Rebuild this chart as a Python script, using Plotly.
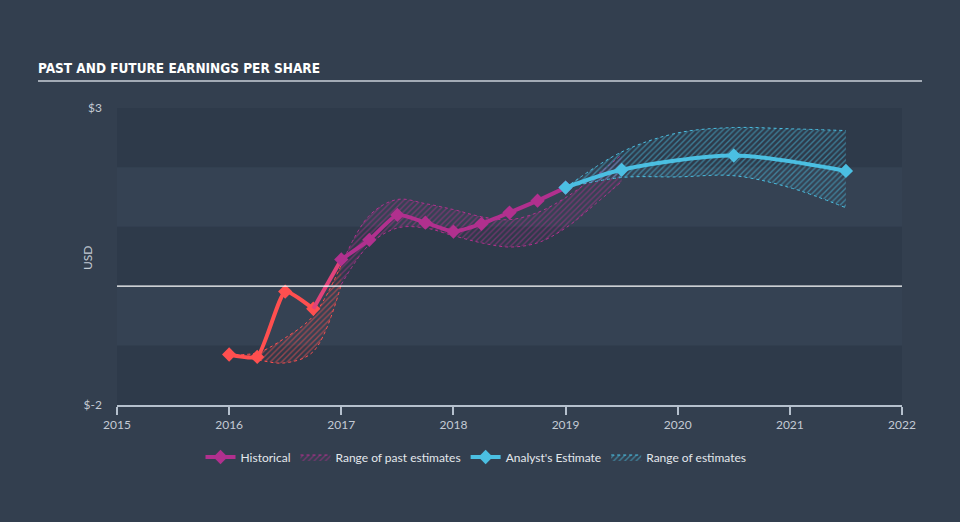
import plotly.graph_objects as go

# ---------------- data ----------------
hist_x = [2016.0, 2016.25, 2016.5, 2016.75, 2017.0, 2017.25, 2017.5, 2017.75,
          2018.0, 2018.25, 2018.5, 2018.75, 2019.0]
hist_y = [-1.15, -1.19, -0.09, -0.38, 0.45, 0.78, 1.20, 1.07,
          0.92, 1.05, 1.24, 1.44, 1.66]

past_x = [2016.0, 2016.25, 2016.5, 2016.75, 2017.0, 2017.25, 2017.5, 2017.75,
          2018.0, 2018.25, 2018.5, 2018.75, 2019.0, 2019.25, 2019.5]
past_hi = [-1.15, -1.12, -0.87, -0.50, 0.36, 1.19, 1.46, 1.39,
           1.29, 1.17, 1.12, 1.24, 1.49, 1.83, 2.21]
past_lo = [-1.15, -1.24, -1.29, -1.10, 0.03, 0.70, 0.98, 0.98,
           0.85, 0.73, 0.66, 0.73, 0.98, 1.36, 1.76]

est_x = [2019.0, 2019.5, 2020.5, 2021.5]
est_y = [1.66, 1.96, 2.20, 1.94]

rng_x = [2019.0, 2019.5, 2020.0, 2020.5, 2021.0, 2021.5]
rng_hi = [1.66, 2.26, 2.58, 2.67, 2.65, 2.62]
rng_lo = [1.66, 1.83, 1.84, 1.86, 1.66, 1.32]

x_ticks = [2015, 2016, 2017, 2018, 2019, 2020, 2021, 2022]
y_ticks = [3, -2]
y_tick_text = ["$3", "$-2"]

# ---------------- style ----------------
RED = "#ff4f4f"
MID = "#e0437a"
PURPLE = "#b1308e"
CYAN = "#4bbfe2"
BG = "#333f4f"
BAND_DARK = "#2e3a4a"
BAND_LIGHT = "#354253"
TXT = "#c3cad4"

fig = go.Figure()


def band(xs, lo, hi, color, name, show, rank):
    fig.add_trace(go.Scatter(
        x=xs, y=lo, mode="lines", line=dict(color=color, width=1, dash="dot", shape="spline"),
        showlegend=False, hoverinfo="skip"))
    fig.add_trace(go.Scatter(
        x=xs, y=hi, mode="lines", line=dict(color=color, width=1, dash="dot", shape="spline"),
        fill="tonexty", fillcolor="rgba(0,0,0,0)",
        fillpattern=dict(shape="/", fgcolor=color, bgcolor="rgba(0,0,0,0)", size=4, solidity=0.35),
        name=name, showlegend=show, legendrank=rank, hoverinfo="skip"))


# past estimate range (red part then purple part)
band(past_x[0:5], past_lo[0:5], past_hi[0:5], RED, "Range of past estimates", False, 2)
band(past_x[4:], past_lo[4:], past_hi[4:], PURPLE, "Range of past estimates", True, 2)
# future estimate range
band(rng_x, rng_lo, rng_hi, CYAN, "Range of estimates", True, 4)

# historical line (colour shifts from red to purple)
fig.add_trace(go.Scatter(
    x=hist_x[0:4], y=hist_y[0:4], mode="lines+markers",
    line=dict(color=RED, width=4, shape="spline", smoothing=0.5),
    marker=dict(symbol="diamond", size=11, color=RED),
    showlegend=False, hoverinfo="skip"))
fig.add_trace(go.Scatter(
    x=hist_x[3:5], y=hist_y[3:5], mode="lines",
    line=dict(color=MID, width=4),
    showlegend=False, hoverinfo="skip"))
fig.add_trace(go.Scatter(
    x=hist_x[4:], y=hist_y[4:], mode="lines+markers",
    line=dict(color=PURPLE, width=4, shape="spline", smoothing=0.5),
    marker=dict(symbol="diamond", size=11, color=PURPLE),
    name="Historical", showlegend=True, legendrank=1, hoverinfo="skip"))

# analyst estimate
fig.add_trace(go.Scatter(
    x=est_x, y=est_y, mode="lines+markers",
    line=dict(color=CYAN, width=4, shape="spline", smoothing=0.8),
    marker=dict(symbol="diamond", size=11, color=CYAN),
    name="Analyst's Estimate", showlegend=True, legendrank=3, hoverinfo="skip"))

# ---------------- layout ----------------
shapes = []
for lo, hi, col in [(2, 3, BAND_DARK), (1, 2, BAND_LIGHT), (0, 1, BAND_DARK),
                    (-1, 0, BAND_LIGHT), (-2, -1, BAND_DARK)]:
    shapes.append(dict(type="rect", xref="paper", yref="y", x0=0, x1=1, y0=lo, y1=hi,
                       fillcolor=col, line=dict(width=0), layer="below"))
# zero line
shapes.append(dict(type="line", xref="paper", yref="y", x0=0, x1=1, y0=0, y1=0,
                   line=dict(color="#ffffff", width=1.3), layer="above"))
# title underline
shapes.append(dict(type="line", xref="paper", yref="paper",
                   x0=(38 - 117) / 785, x1=(922 - 117) / 785,
                   y0=(405 - 81) / 297, y1=(405 - 81) / 297,
                   line=dict(color="#a3abb6", width=2)))

fig.update_layout(
    width=960, height=522,
    paper_bgcolor=BG, plot_bgcolor=BAND_LIGHT,
    margin=dict(l=117, r=58, t=108, b=117),
    shapes=shapes,
    font=dict(family="Lato, Open Sans, sans-serif", color=TXT, size=12),
    title=dict(text="<b>PAST AND FUTURE EARNINGS PER SHARE</b>",
               x=38 / 960, xanchor="left", xref="container",
               y=1 - 68 / 522, yanchor="middle", yref="container",
               font=dict(family="DejaVu Sans Condensed, sans-serif",
                         size=13.5, color="#ffffff")),
    showlegend=True,
    legend=dict(orientation="h", x=(476 - 117) / 785, xanchor="center",
                y=-(457 - 405) / 297, yanchor="middle",
                bgcolor="rgba(0,0,0,0)", traceorder="normal",
                font=dict(family="Lato, sans-serif", size=12, color="#e3e7ec"),
                itemwidth=30, tracegroupgap=0),
    xaxis=dict(range=[2015, 2022], tickvals=x_ticks, ticktext=[str(v) for v in x_ticks],
               showgrid=False, zeroline=False, showline=True, linecolor="#b5c0cd", linewidth=1.5,
               ticks="outside", ticklen=8, tickcolor="#b5c0cd", tickwidth=1.5,
               tickfont=dict(size=12, color=TXT), fixedrange=True),
    yaxis=dict(range=[-2, 3], tickvals=y_ticks, ticktext=y_tick_text,
               showgrid=False, zeroline=False, showline=False, ticks="",
               ticklabelstandoff=14,
               tickfont=dict(size=12, color=TXT),
               fixedrange=True),
    annotations=[dict(text="USD", xref="paper", yref="paper",
                      x=(87 - 117) / 785, y=(405 - 258) / 297,
                      xanchor="center", yanchor="middle", textangle=-90,
                      showarrow=False, font=dict(size=12, color=TXT))],
)

fig.write_html("out.html")
